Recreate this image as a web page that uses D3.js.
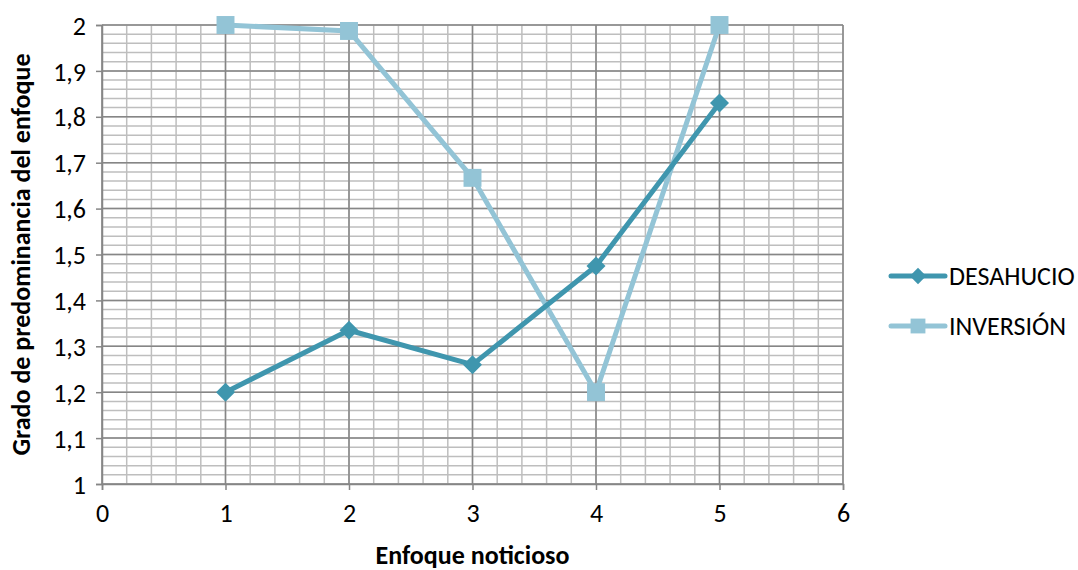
<!DOCTYPE html>
<html>
<head>
<meta charset="utf-8">
<script src="https://cdn.jsdelivr.net/npm/d3@7"></script>
<style>
  body { margin: 0; background: #fff; }
  text { font-family: Calibri, Carlito, "Open Sans", sans-serif; }
</style>
</head>
<body>
<svg id="chart" width="1078" height="570"></svg>
<script>
var xValues = [1, 2, 3, 4, 5];
var desahucio = [1.2, 1.335, 1.26, 1.475, 1.83];
var inversion = [2, 1.987, 1.667, 1.2, 2];
var seriesNames = ["DESAHUCIO", "INVERSIÓN"];
var xTicks = [0, 1, 2, 3, 4, 5, 6];
var yTicks = [1, 1.1, 1.2, 1.3, 1.4, 1.5, 1.6, 1.7, 1.8, 1.9, 2];

var plotLeft = 102, plotRight = 843, plotTop = 25, plotBottom = 484;
var darkColor = "#3F96AE";
var lightColor = "#93C4D6";
var fontSize = 26;

var svg = d3.select("#chart");

var x = d3.scaleLinear().domain([0, 6]).range([plotLeft, plotRight]);
var y = d3.scaleLinear().domain([1, 2]).range([plotBottom, plotTop]);
var fmt = function(d) { return String(d).replace(".", ","); };

// minor grid
var minorX = d3.range(0, 6.001, 0.2);
var minorY = d3.range(1, 2.001, 0.02);
svg.append("g").selectAll("line").data(minorX).join("line")
  .attr("x1", d => x(d)).attr("x2", d => x(d))
  .attr("y1", plotTop).attr("y2", plotBottom)
  .attr("stroke", "#BEBEBE").attr("stroke-width", 1.5);
svg.append("g").selectAll("line").data(minorY).join("line")
  .attr("x1", plotLeft).attr("x2", plotRight)
  .attr("y1", d => y(d)).attr("y2", d => y(d))
  .attr("stroke", "#BEBEBE").attr("stroke-width", 1.5);

// major grid
svg.append("g").selectAll("line").data(xTicks).join("line")
  .attr("x1", d => x(d)).attr("x2", d => x(d))
  .attr("y1", plotTop).attr("y2", plotBottom)
  .attr("stroke", "#868686").attr("stroke-width", 1.5);
svg.append("g").selectAll("line").data(yTicks).join("line")
  .attr("x1", plotLeft).attr("x2", plotRight)
  .attr("y1", d => y(d)).attr("y2", d => y(d))
  .attr("stroke", "#868686").attr("stroke-width", 1.5);

// axes
var xAxis = svg.append("g")
  .attr("transform", "translate(0," + plotBottom + ")")
  .call(d3.axisBottom(x).tickValues(xTicks).tickFormat(fmt).tickSize(6).tickPadding(14));
var yAxis = svg.append("g")
  .attr("transform", "translate(" + plotLeft + ",0)")
  .call(d3.axisLeft(y).tickValues(yTicks).tickFormat(fmt).tickSize(6).tickPadding(10));
[xAxis, yAxis].forEach(function(a) {
  a.select(".domain").attr("stroke", "#868686").attr("stroke-width", 1.5);
  a.selectAll(".tick line").attr("stroke", "#868686").attr("stroke-width", 1.5);
  a.selectAll(".tick text").attr("font-size", fontSize).attr("fill", "#000")
    .style("font-family", "Calibri, Carlito, 'Open Sans', sans-serif");
});
yAxis.selectAll(".tick text").attr("dy", "0.35em");

// axis titles
svg.append("text")
  .attr("x", x(3)).attr("y", 564)
  .attr("text-anchor", "middle")
  .attr("font-size", fontSize).attr("font-weight", "bold")
  .text("Enfoque noticioso");
svg.append("text")
  .attr("transform", "translate(30," + ((plotTop + plotBottom) / 2) + ") rotate(-90)")
  .attr("text-anchor", "middle")
  .attr("font-size", fontSize).attr("font-weight", "bold")
  .text("Grado de predominancia del enfoque");

var line = d3.line().x(d => x(d[0])).y(d => y(d[1]));
var diamond = d3.symbol().type(d3.symbolDiamond2).size(230);
var square = d3.symbol().type(d3.symbolSquare2).size(410);

function drawSeries(values, color, sym) {
  var pts = xValues.map((v, i) => [v, values[i]]);
  svg.append("path").datum(pts)
    .attr("d", line)
    .attr("fill", "none")
    .attr("stroke", color)
    .attr("stroke-width", 5)
    .attr("stroke-linejoin", "round");
  svg.append("g").selectAll("path").data(pts).join("path")
    .attr("transform", d => "translate(" + x(d[0]) + "," + y(d[1]) + ")")
    .attr("d", sym)
    .attr("fill", color);
}

drawSeries(inversion, lightColor, square);
drawSeries(desahucio, darkColor, diamond);

// legend
var legendDiamond = d3.symbol().type(d3.symbolDiamond2).size(170);
var legendSquare = d3.symbol().type(d3.symbolSquare2).size(280);
var legend = svg.append("g");
var legendItems = [
  { name: seriesNames[0], color: darkColor, sym: legendDiamond, y: 276 },
  { name: seriesNames[1], color: lightColor, sym: legendSquare, y: 326 }
];
legendItems.forEach(function(it) {
  legend.append("line")
    .attr("x1", 891).attr("x2", 945)
    .attr("y1", it.y).attr("y2", it.y)
    .attr("stroke", it.color).attr("stroke-width", 5)
    .attr("stroke-linecap", "round");
  legend.append("path")
    .attr("transform", "translate(918," + it.y + ")")
    .attr("d", it.sym)
    .attr("fill", it.color);
  legend.append("text")
    .attr("x", 949).attr("y", it.y)
    .attr("dy", "0.35em")
    .attr("font-size", fontSize)
    .text(it.name);
});
</script>
</body>
</html>
